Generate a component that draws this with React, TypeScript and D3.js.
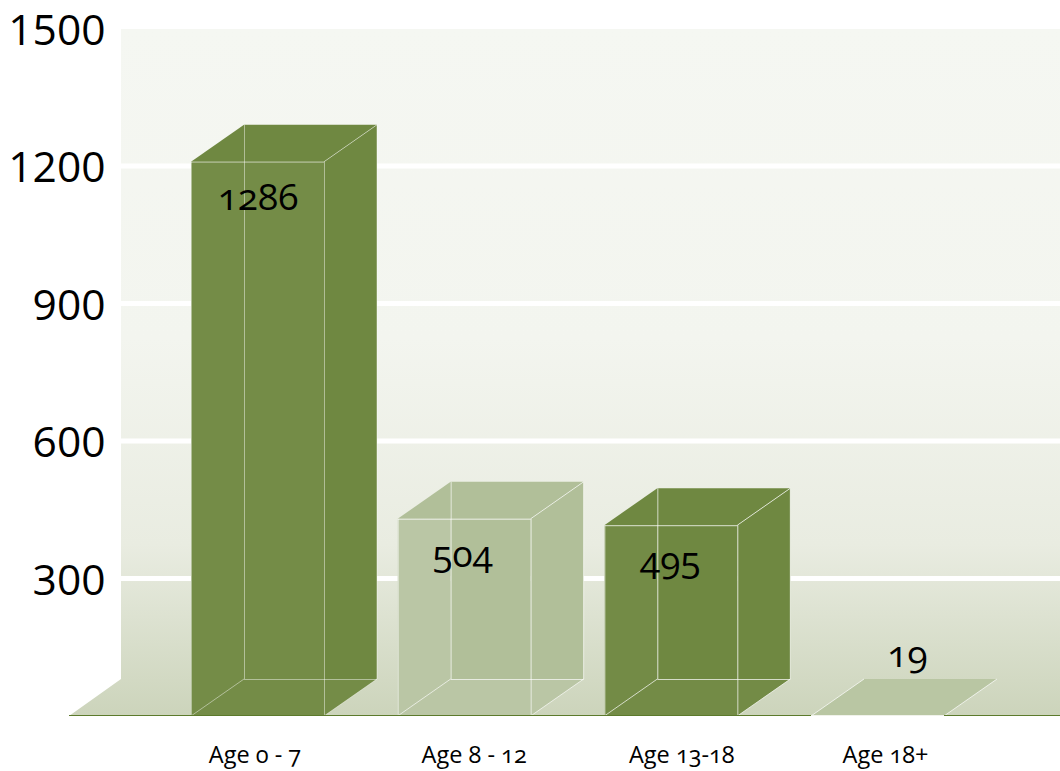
import React from "react";
import * as d3 from "d3";

const categories = ["Age 0 - 7", "Age 8 - 12", "Age 13-18", "Age 18+"];
const valueLabels = ["1286", "504", "495", "19"];
// bar heights as plotted in the picture
const values = [1290, 511, 497, 19];
const faceFront = ["#748c47", "#bac6a5", "#738b46", "#b9c6a3"];
const faceCentre = ["#748c47", "#b1bf99", "#6f8841", "#b1bf99"];
const faceBack = ["#6f8841", "#b1bf99", "#6f8841", "#b1bf99"];
const edgeAlpha = [0.45, 0.65, 0.7, 0.7];
const yTicks = [300, 600, 900, 1200, 1500];

const W = 1060, H = 771;
const depthX = 53, depthY = 37;
const baseY = 716;
const y = d3.scaleLinear().domain([0, 1500]).range([baseY, 28.5]);
const x = d3.scaleBand<string>().domain(categories).range([191, 191 + 206.67 * 4]).paddingInner(0);
const barW = 133;

const labelDx = [-2.5, 10, 11, 8];
const valueDx = [0.5, -1.5, -0.5, 30];

const poly = (p: [number, number][]) => d3.line()(p)! + "Z";

export default function App() {
  const fontVal = "'Open Sans', sans-serif";
  return (
    <svg width={W} height={H} style={{ position: "absolute", left: 0, top: 0, background: "#fff" }}>
      <defs>
        <linearGradient id="wall" gradientUnits="userSpaceOnUse" x1="0" x2="0" y1={29} y2={baseY}>
          <stop offset="0" stopColor="#f5f7f2" />
          <stop offset="0.45" stopColor="#f3f5ef" />
          <stop offset="0.75" stopColor="#e9ece1" />
          <stop offset="1" stopColor="#ccd4bb" />
        </linearGradient>
      </defs>
      <path
        d={poly([[121, 29], [W, 29], [W, baseY], [69, baseY], [121, baseY - depthY]])}
        fill="url(#wall)"
      />
      {yTicks.slice(0, 4).map((t) => (
        <line key={t} x1={121} x2={W} y1={y(t)} y2={y(t)} stroke="#fff" strokeWidth={5} />
      ))}
      {yTicks.map((t) => (
        <text key={t} x={105.5} y={y(t) + 16} textAnchor="end" fontFamily={fontVal} fontSize={42.5} fill="#000">
          {t}
        </text>
      ))}
      {categories.map((c, i) => {
        const x0 = x(c)!;
        const x1 = x0 + barW;
        const backTop = Math.min(y(values[i]), baseY - depthY);
        const frontTop = backTop + depthY;
        const flat = frontTop >= baseY - 1;
        const stroke = `rgba(255,255,255,${edgeAlpha[i]})`;
        return (
          <g key={c}>
            {!flat && (
              <>
                <path d={poly([[x1, frontTop], [x1 + depthX, backTop], [x1 + depthX, baseY - depthY], [x1, baseY - depthY]])} fill={faceBack[i]} />
                <rect x={x0} y={frontTop} width={depthX} height={baseY - frontTop} fill={faceFront[i]} />
                <rect x={x0 + depthX} y={frontTop} width={barW - depthX} height={baseY - frontTop} fill={faceCentre[i]} />
                <path d={poly([[x0, frontTop], [x0 + depthX, backTop], [x1 + depthX, backTop], [x1, frontTop]])} fill={faceBack[i]} />
              </>
            )}
            <path d={poly([[x0, baseY], [x0 + depthX, baseY - depthY], [x1 + depthX, baseY - depthY], [x1, baseY]])} fill={faceFront[i]} />
            <g stroke={stroke} strokeWidth={1} fill="none">
              {!flat && (
                <>
                  <line x1={x0 + 0.5} x2={x0 + 0.5} y1={frontTop} y2={baseY} />
                  <line x1={x0} x2={x1} y1={frontTop + 0.5} y2={frontTop + 0.5} />
                  <line x1={x0 + depthX + 0.5} x2={x0 + depthX + 0.5} y1={backTop} y2={baseY - depthY} />
                  <line x1={x1 + 0.5} x2={x1 + 0.5} y1={frontTop} y2={baseY} />
                  <line x1={x0 + depthX} x2={x1 + depthX} y1={baseY - depthY + 0.5} y2={baseY - depthY + 0.5} />
                  <line x1={x1} y1={frontTop} x2={x1 + depthX} y2={backTop} />
                  <line x1={x1 + depthX} y1={backTop} x2={x1 + depthX} y2={baseY - depthY} />
                </>
              )}
              <line x1={x0} y1={baseY} x2={x0 + depthX} y2={baseY - depthY} />
              <line x1={x1} y1={baseY} x2={x1 + depthX} y2={baseY - depthY} />
            </g>
            <text
              x={x0 + barW / 2 + valueDx[i]}
              y={flat ? 667 : frontTop + 48}
              textAnchor="middle"
              fontFamily={fontVal}
              fontSize={37}
              style={{ fontVariantNumeric: "oldstyle-nums" }}
              fill="#000"
            >
              {valueLabels[i]}
            </text>
            <text
              x={x0 + barW / 2 + labelDx[i]}
              y={763}
              textAnchor="middle"
              fontFamily={fontVal}
              fontSize={23.5}
              style={{ fontVariantNumeric: "oldstyle-nums" }}
              fill="#000"
            >
              {c}
            </text>
          </g>
        );
      })}
      <line x1={69} x2={W} y1={baseY - 0.5} y2={baseY - 0.5} stroke="#5c7a2c" strokeWidth={1} />
      {categories.map((c, i) => {
        const backTop = Math.min(y(values[i]), baseY - depthY);
        if (backTop + depthY < baseY - 1) return null;
        return <line key={c} x1={x(c)!} x2={x(c)! + barW} y1={baseY - 0.5} y2={baseY - 0.5} stroke="#f0f2ea" strokeWidth={1} />;
      })}
    </svg>
  );
}
